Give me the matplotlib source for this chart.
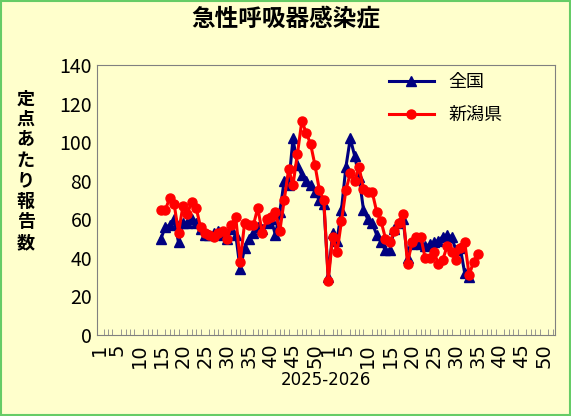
import numpy as np
import matplotlib.pyplot as plt
import matplotlib.ticker as ticker

plt.rcParams['font.family'] = ['Noto Sans CJK JP', 'DejaVu Sans']

# weeks: 2025 w15..w52, then 2026 w1..w35
weeks_2025 = list(range(15, 53))
weeks_2026 = list(range(1, 36))

zenkoku = [50, 56, 57, 60, 48, 58, 58, 60, 58, 55, 52, 52, 53, 54, 52, 50, 55, 52, 34,
           45, 50, 53, 56, 55, 58, 60, 52, 64, 80, 78, 102, 88, 83, 80, 78, 74, 70, 68,
           30, 53, 49, 65, 87, 102, 93, 82, 65, 60, 58, 52, 48, 44, 44, 55, 58, 60, 40,
           47, 48, 47, 46, 47, 48, 49, 51, 52, 51, 44, 45, 32, 30]
niigata = [65, 65, 71, 68, 53, 67, 63, 69, 66, 56, 53, 52, 51, 53, 54, 50, 57, 61, 38,
           58, 57, 57, 66, 53, 60, 61, 64, 54, 70, 86, 78, 94, 111, 105, 99, 88, 75, 70,
           28, 51, 43, 59, 75, 84, 80, 87, 76, 74, 74, 64, 59, 50, 48, 54, 58, 63, 37,
           48, 51, 51, 40, 40, 43, 37, 39, 46, 43, 39, 45, 48, 31, 38, 42]

tick_weeks = [1, 5, 10, 15, 20, 25, 30, 35, 40, 45, 50]

pos = np.array(weeks_2025 + [52 + w for w in weeks_2026])

bg = '#FFFFCC'
fig = plt.figure(figsize=(5.71, 4.16), dpi=100, facecolor=bg)
ax = fig.add_axes([0.170, 0.195, 0.802, 0.648])
ax.set_facecolor(bg)

ax.plot(pos[:len(zenkoku)], zenkoku, color='#000080', lw=2.2, marker='^', ms=6.5, label='全国')
ax.plot(pos[:len(niigata)], niigata, color='#FF0000', lw=2.2, marker='o', ms=6.5, label='新潟県')

ax.set_xlim(0.5, 104.5)
ax.set_ylim(0, 140)
ax.set_yticks(range(0, 141, 20))
ax.tick_params(axis='y', labelsize=14, direction='in', length=0)
xt = tick_weeks + [52 + w for w in tick_weeks]
ax.set_xticks(xt)
ax.set_xticklabels([str(w) for w in tick_weeks] * 2, rotation=90, fontsize=14,
                   family='DejaVu Sans')
ax.tick_params(axis='x', direction='in', length=0, pad=6)
ax.xaxis.set_minor_locator(ticker.MultipleLocator(1))
ax.tick_params(axis='x', which='minor', direction='in', length=4, color='#888888')
for s in ax.spines.values():
    s.set_color('#808080')
ax.set_xlabel('2025-2026', fontsize=12, family='DejaVu Sans', labelpad=2)

fig.text(0.5, 0.955, '急性呼吸器感染症', ha='center', va='center', fontsize=17, fontweight='bold')
fig.text(0.045, 0.59, '\n'.join('定点あたり報告数'), ha='center', va='center', fontsize=13,
         fontweight='bold', linespacing=1.1)

ax.legend(loc='upper right', bbox_to_anchor=(0.92, 1.03), frameon=False, fontsize=13,
          handlelength=2.5, labelspacing=0.8)

fig.patches.append(plt.Rectangle((0.002, 0.002), 0.996, 0.996, transform=fig.transFigure,
                                 fill=False, edgecolor='#66CC66', lw=1.5))
fig.savefig('out.png', dpi=100, facecolor=bg)
